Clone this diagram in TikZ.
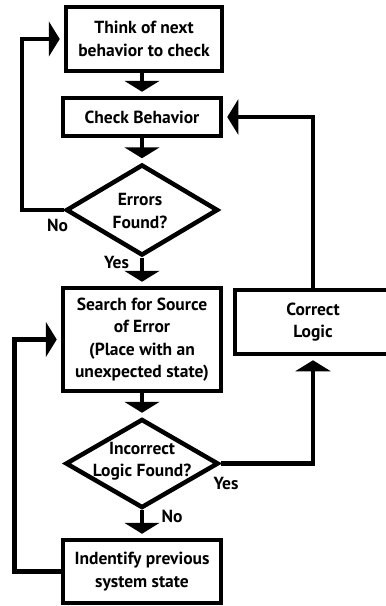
\documentclass[tikz,border=0pt]{standalone}
\usepackage{fontspec}
\setmainfont{PT Sans}
\usetikzlibrary{positioning,shapes.geometric,arrows.meta}

\begin{document}
\begin{tikzpicture}[
  x=1pt, y=-1pt,
  font=\fontsize{17.5}{22.5}\selectfont\bfseries,
  box/.style={draw, line width=4.5pt, align=center, inner sep=0pt},
  dec/.style={draw, diamond, line width=4.5pt, inner sep=0pt},
  txt/.style={align=center, inner sep=0pt},
  arr/.style={line width=4.5pt, -{Triangle[width=35pt,length=11pt]}, shorten >=4pt}
]
\clip (0,0) rectangle (386,606);

\node[box, minimum width=156pt, minimum height=64pt] (think) at (144,39) {Think of next\\behavior to check};
\node[box, minimum width=158pt, minimum height=38pt] (check) at (142,117) {Check Behavior};
\node[dec, minimum width=152pt, minimum height=91pt] (found) at (142,210) {};
\node[txt] (foundtxt) at (140,211) {Errors\\Found?};
\node[box, minimum width=158pt, minimum height=103pt] (search) at (142,339.5) {Search for Source\\of Error\\(Place with an\\unexpected state)};
\node[dec, minimum width=153pt, minimum height=89pt] (logic) at (142,463.5) {};
\node[txt] (logictxt) at (142,461) {Incorrect\\Logic Found?};
\node[box, minimum width=158pt, minimum height=63pt] (identify) at (142,571.5) {Indentify previous\\system state};
\node[box, minimum width=156pt, minimum height=64pt] (correct) at (313,322) {Correct\\Logic};

\coordinate (loopa) at (22,0);
\coordinate (loopb) at (14.5,0);

\draw[arr] (check.north |- think.south) -- (check.north);
\draw[arr] (check.south) -- (found.north);
\draw[arr] (found.south) -- (search.north);
\draw[arr] (search.south) -- (logic.north);
\draw[arr] (logic.south) -- (identify.north);
\draw[arr] (found.west) -- (found.west -| loopa) |- (think.west);
\draw[arr] (identify.west) -- (identify.west -| loopb) |- (search.west);
\draw[arr] (logic.east) -| (correct.south);
\draw[arr] (correct.north) |- (check.east);

\node[txt] (no1) at (57.5,225) {No};
\node[txt] (yes1) at (116.5,262.5) {Yes};
\node[txt] (yes2) at (226,483.5) {Yes};
\node[txt] (no2) at (172,516) {No};
\end{tikzpicture}
\end{document}
